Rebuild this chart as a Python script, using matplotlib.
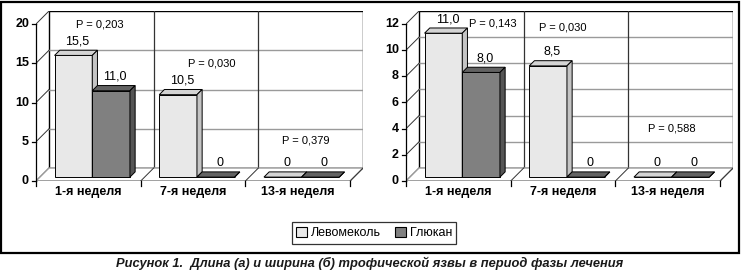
import numpy as np
import matplotlib.pyplot as plt
from matplotlib.patches import Polygon, Rectangle, Patch

plt.rcParams['font.family'] = ['Liberation Sans', 'DejaVu Sans']

# данные
weeks = ['1-я неделя', '7-я неделя', '13-я неделя']
series = ['Левомеколь', 'Глюкан']
length_lev = [15.5, 10.5, 0]
length_glu = [11.0, 0, 0]
width_lev = [11.0, 8.5, 0]
width_glu = [8.0, 0, 0]
length_p = ['P = 0,203', 'P = 0,030', 'P = 0,379']
width_p = ['P = 0,143', 'P = 0,030', 'P = 0,588']
length_ticks = [0, 5, 10, 15, 20]
width_ticks = [0, 2, 4, 6, 8, 10, 12]

# расположение подписей P (x в категориях, y в единицах оси)
length_p_pos = [(0.61, 19.9), (1.68, 15.0), (2.58, 5.2)]
width_p_pos = [(0.83, 12.0), (1.50, 11.7), (2.54, 4.05)]

W_PX, H_PX = 741, 272
fig = plt.figure(figsize=(W_PX / 100, H_PX / 100), dpi=100)

light = ('#e8e8e8', '#d4d4d4', '#c4c4c4')
dark = ('#808080', '#626262', '#555555')
grid_c = '#9a9a9a'


def fmt(v):
    return '0' if v == 0 else f'{v:.1f}'.replace('.', ',')


def bar3d(ax, xs, vals, width, cols, b, ddx, ddy, f0, f1):
    ax.bar(xs, vals, width, bottom=b, align='edge', color=cols[0],
           edgecolor='black', linewidth=0.7, zorder=5)
    d = (f1 - f0) * ddx
    e = (f1 - f0) * ddy
    for x, v in zip(xs, vals):
        xr = x + width
        top = [(x, v + b), (xr, v + b), (xr + d, v + b + e), (x + d, v + b + e)]
        side = [(xr, b), (xr, v + b), (xr + d, v + b + e), (xr + d, b + e)]
        ax.add_patch(Polygon(top, closed=True, fc=cols[1], ec='black', lw=0.7, zorder=5))
        ax.add_patch(Polygon(side, closed=True, fc=cols[2], ec='black', lw=0.7, zorder=5))


def panel(x0, y0, vmax, ticks, lev, glu, pvals, ppos):
    sx = 104.7
    sy = 157.0 / vmax
    ddx = 13 / sx
    ddy = 13 / sy
    W = 3 + ddx
    H = vmax + ddy
    ax = fig.add_axes([x0 / W_PX, (H_PX - y0) / H_PX, W * sx / W_PX, H * sy / H_PX])
    ax.set_xlim(0, W)
    ax.set_ylim(0, H)
    ax.axis('off')

    # задняя стенка
    ax.add_patch(Rectangle((ddx, ddy), 3, vmax, fc='white', ec='black', lw=1.0, zorder=1))
    for t in ticks[1:-1]:
        ax.plot([ddx, 3 + ddx], [t + ddy, t + ddy], color=grid_c, lw=1.0, zorder=2)
    for k in (1, 2):
        ax.plot([k + ddx, k + ddx], [ddy, vmax + ddy], color='#333333', lw=0.9, zorder=2)
    # боковая стенка
    for t in ticks:
        ax.plot([0, ddx], [t, t + ddy], color='#333333', lw=0.7, zorder=2)
    # пол
    ax.add_patch(Polygon([(0, 0), (3, 0), (3 + ddx, ddy), (ddx, ddy)], closed=True,
                         fc='white', ec=grid_c, lw=1.0, zorder=2))
    ax.plot([0, 3], [0, 0], color='#a0a0a0', lw=2.0, zorder=3)
    for k in (1, 2, 3):
        ax.plot([k, k + ddx], [0, ddy], color='#333333', lw=0.7, zorder=3)

    # ось Y
    ax.plot([0, 0], [0, vmax], color='black', lw=0.9, zorder=4, clip_on=False)
    for t in ticks:
        ax.plot([-4 / sx, 0], [t, t], color='black', lw=0.9, clip_on=False)
        ax.annotate(str(t), (0, t), xytext=(-7, 0), textcoords='offset pixels',
                    ha='right', va='center', fontsize=9, fontweight='bold')
    # ось X
    for k in range(4):
        ax.plot([k, k], [0, -5 / sy], color='black', lw=0.9, clip_on=False)
    for k, name in enumerate(weeks):
        ax.annotate(name, (k + 0.5, 0), xytext=(0, -11), textcoords='offset pixels',
                    ha='center', va='center', fontsize=9, fontweight='bold')

    # столбцы
    f0, f1 = 0.3, 0.7
    base = np.arange(3)
    bw = 0.36
    b = f0 * ddy
    xs_l = base + 0.14 + f0 * ddx
    xs_g = base + 0.50 + f0 * ddx
    bar3d(ax, xs_l, lev, bw, light, b, ddx, ddy, f0, f1)
    bar3d(ax, xs_g, glu, bw, dark, b, ddx, ddy, f0, f1)

    for xs, vals in ((xs_l, lev), (xs_g, glu)):
        for x, v in zip(xs, vals):
            ax.annotate(fmt(v), (x + bw / 2, v + b), xytext=(4, 14),
                        textcoords='offset pixels', ha='center', va='center',
                        fontsize=9, zorder=6)

    for txt, (px, py) in zip(pvals, ppos):
        ax.text(px, py, txt, ha='center', va='center', fontsize=8, zorder=6)


panel(36, 181, 20, length_ticks, length_lev, length_glu, length_p, length_p_pos)
panel(406, 181, 12, width_ticks, width_lev, width_glu, width_p, width_p_pos)

handles = [Patch(fc=light[0], ec='black', lw=0.8), Patch(fc=dark[0], ec='black', lw=0.8)]
leg = fig.legend(handles, series, loc='center', bbox_to_anchor=(374 / W_PX, 1 - 233 / H_PX),
                 ncol=2, fontsize=9, frameon=True, fancybox=False, handlelength=0.9,
                 handleheight=0.9, handletextpad=0.3, columnspacing=1.1,
                 borderpad=0.35, edgecolor='black')
leg.get_frame().set_linewidth(0.9)

# рамка
fig.add_artist(Rectangle((1 / W_PX, (H_PX - 253) / H_PX), 738 / W_PX, 251 / H_PX,
                         transform=fig.transFigure, fill=False, ec='black', lw=1.6))
fig.text(370 / W_PX, (H_PX - 263) / H_PX,
         'Рисунок 1.  Длина (а) и ширина (б) трофической язвы в период фазы лечения',
         ha='center', va='center', fontsize=9.3, fontweight='bold', style='italic',
         color='#1a1a1a')

fig.savefig('out.png', dpi=100, facecolor='white')
